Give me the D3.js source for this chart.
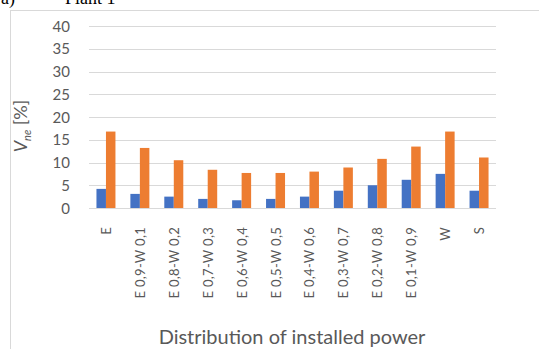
<!DOCTYPE html>
<html>
<head>
<meta charset="utf-8">
<script src="https://cdn.jsdelivr.net/npm/d3@7"></script>
<style>
  body { margin: 0; background: #fff; }
  svg { display: block; }
</style>
</head>
<body>
<svg id="chart"></svg>
<script>
// categories and the two series
const categories = ["E", "E 0,9-W 0,1", "E 0,8-W 0,2", "E 0,7-W 0,3", "E 0,6-W 0,4",
  "E 0,5-W 0,5", "E 0,4-W 0,6", "E 0,3-W 0,7", "E 0,2-W 0,8", "E 0,1-W 0,9", "W", "S"];
const seriesBlue = [4.2, 3.1, 2.5, 2.0, 1.7, 2.0, 2.5, 3.8, 5.0, 6.2, 7.5, 3.8];
const seriesOrange = [16.8, 13.2, 10.5, 8.4, 7.7, 7.7, 8.0, 8.9, 10.8, 13.5, 16.8, 11.1];
const yTicks = [0, 5, 10, 15, 20, 25, 30, 35, 40];

const width = 539, height = 349;
const margin = { left: 89, right: 43, top: 26, bottom: 141 };
const font = "Lato, 'Open Sans', sans-serif";

const svg = d3.select("#chart")
  .attr("width", width)
  .attr("height", height);

// chart frame (left and top edges visible, rest runs off the picture)
svg.append("rect")
  .attr("x", 10.5).attr("y", 10.5)
  .attr("width", 540).attr("height", 345)
  .attr("fill", "#fff")
  .attr("stroke", "#d9d9d9");

// caption, cut off at the top like in the source figure
svg.append("text")
  .attr("x", 1).attr("y", 4)
  .attr("font-family", "Liberation Serif")
  .attr("font-size", 18)
  .text("a)");
svg.append("text")
  .attr("x", 65).attr("y", 4)
  .attr("font-family", "Liberation Serif")
  .attr("font-size", 18)
  .text("Plant 1");

const x = d3.scaleBand()
  .domain(categories)
  .range([margin.left, width - margin.right])
  .paddingInner(0.44)
  .paddingOuter(0.22);

const xSub = d3.scaleBand()
  .domain(["blue", "orange"])
  .range([0, x.bandwidth()]);

const y = d3.scaleLinear()
  .domain([0, 40])
  .range([height - margin.bottom, margin.top]);

// gridlines
svg.append("g")
  .selectAll("line")
  .data(yTicks)
  .join("line")
  .attr("x1", margin.left)
  .attr("x2", width - margin.right)
  .attr("y1", d => Math.round(y(d)) + 0.5)
  .attr("y2", d => Math.round(y(d)) + 0.5)
  .attr("stroke", "#d9d9d9");

// y tick labels
svg.append("g")
  .selectAll("text")
  .data(yTicks)
  .join("text")
  .attr("x", 70)
  .attr("y", d => y(d) + 5.5)
  .attr("text-anchor", "end")
  .attr("font-family", font)
  .attr("font-size", 15)
  .attr("fill", "#595959")
  .text(d => d);

// bars
const groups = svg.append("g")
  .selectAll("g")
  .data(categories.map((c, i) => ({ cat: c, blue: seriesBlue[i], orange: seriesOrange[i] })))
  .join("g")
  .attr("transform", d => `translate(${x(d.cat)},0)`);

groups.selectAll("rect")
  .data(d => [{ key: "blue", v: d.blue }, { key: "orange", v: d.orange }])
  .join("rect")
  .attr("x", d => xSub(d.key))
  .attr("width", xSub.bandwidth())
  .attr("y", d => y(d.v))
  .attr("height", d => y(0) - y(d.v))
  .attr("fill", d => d.key === "blue" ? "#4472c4" : "#ed7d31");

// x tick labels, rotated
svg.append("g")
  .selectAll("text")
  .data(categories)
  .join("text")
  .attr("transform", d => `translate(${x(d) + x.bandwidth() / 2 + 5},227) rotate(-90)`)
  .attr("text-anchor", "end")
  .attr("font-family", font)
  .attr("font-size", 13)
  .attr("letter-spacing", 0.3)
  .attr("fill", "#595959")
  .text(d => d);

// axis titles
svg.append("text")
  .attr("x", 292).attr("y", 344)
  .attr("text-anchor", "middle")
  .attr("font-family", font)
  .attr("font-size", 20)
  .attr("fill", "#595959")
  .text("Distribution of installed power");

const yTitle = svg.append("text")
  .attr("transform", "translate(27,126) rotate(-90)")
  .attr("text-anchor", "middle")
  .attr("font-family", font)
  .attr("font-size", 18)
  .attr("fill", "#595959");
yTitle.append("tspan").attr("font-style", "italic").text("V");
yTitle.append("tspan").attr("font-style", "italic").attr("font-size", 11).attr("dy", 4).text("ne");
yTitle.append("tspan").attr("dy", -4).text(" [%]");
</script>
</body>
</html>
